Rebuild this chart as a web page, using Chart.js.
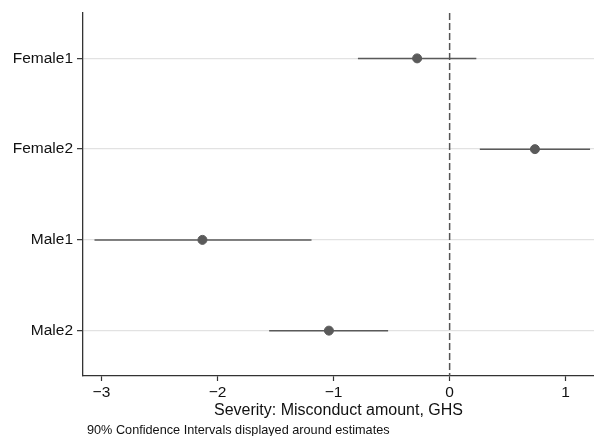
<!DOCTYPE html>
<html>
<head>
<meta charset="utf-8">
<script src="https://cdn.jsdelivr.net/npm/chart.js@4"></script>
<style>
  html, body { margin: 0; padding: 0; background: #fff; }
</style>
</head>
<body>
<canvas id="myChart" width="594" height="436"></canvas>
<script>
// data
const categories = ['Female1', 'Female2', 'Male1', 'Male2'];
const estimates = [-0.28, 0.735, -2.13, -1.04];
const ciLow = [-0.79, 0.26, -3.06, -1.555];
const ciHigh = [0.23, 1.21, -1.19, -0.53];
const xTicks = [-3, -2, -1, 0, 1];
const xTitle = 'Severity: Misconduct amount, GHS';
const note = '90% Confidence Intervals displayed around estimates';

const fontFamily = '"Liberation Sans", Arial, Helvetica, sans-serif';
const markColor = '#5a5a5a';

// confidence interval lines, one dataset per row
const ciSets = categories.map((c, i) => ({
    type: 'line',
    data: [{ x: ciLow[i], y: i }, { x: ciHigh[i], y: i }],
    borderColor: markColor,
    borderWidth: 1.5,
    pointRadius: 0,
    order: 3
}));

const notePlugin = {
    id: 'note',
    afterDraw(chart) {
        const ctx = chart.ctx;
        ctx.save();
        ctx.font = '12.7px ' + fontFamily;
        ctx.fillStyle = '#111';
        ctx.textBaseline = 'middle';
        ctx.fillText(note, chart.chartArea.left + 4, 430);
        ctx.restore();
    }
};

new Chart(document.getElementById('myChart').getContext('2d'), {
    type: 'scatter',
    data: {
        datasets: [{
            data: estimates.map((v, i) => ({ x: v, y: i })),
            backgroundColor: markColor,
            borderColor: markColor,
            pointRadius: 4.5,
            pointHoverRadius: 4.5,
            order: 1
        }, {
            type: 'line',
            data: [{ x: 0, y: -0.5 }, { x: 0, y: 3.5 }],
            borderColor: '#555',
            borderWidth: 1.5,
            borderDash: [7, 3],
            pointRadius: 0,
            order: 2
        }, ...ciSets]
    },
    options: {
        responsive: false,
        animation: false,
        devicePixelRatio: 1,
        layout: { autoPadding: false, padding: { top: 13, right: 0, bottom: 16, left: 0 } },
        plugins: {
            legend: { display: false },
            tooltip: { enabled: false }
        },
        scales: {
            x: {
                type: 'linear',
                min: -3.159,
                max: 1.244,
                afterBuildTicks: axis => { axis.ticks = xTicks.map(v => ({ value: v })); },
                afterFit: scale => {
                    scale.height = 44;
                    scale.paddingLeft = 0;
                    scale.paddingRight = 0;
                },
                ticks: {
                    color: '#111',
                    padding: 2,
                    font: { size: 15.5, family: fontFamily },
                    callback: v => v < 0 ? '\u2212' + Math.abs(v) : String(v)
                },
                grid: { drawOnChartArea: false, tickLength: 5, tickColor: '#333', tickWidth: 1.2 },
                border: { color: '#333', width: 1.3 },
                title: {
                    display: true,
                    text: xTitle,
                    color: '#111',
                    font: { size: 16, family: fontFamily },
                    padding: { top: 0, bottom: 0 }
                }
            },
            y: {
                type: 'linear',
                reverse: true,
                min: -0.5,
                max: 3.5,
                afterBuildTicks: axis => { axis.ticks = categories.map((c, i) => ({ value: i })); },
                afterFit: scale => {
                    scale.width = 83;
                    scale.paddingTop = 0;
                    scale.paddingBottom = 0;
                },
                ticks: {
                    color: '#111',
                    padding: 4,
                    font: { size: 15.5, family: fontFamily },
                    callback: v => categories[v]
                },
                grid: { color: '#e2e2e2', lineWidth: 1.3, tickLength: 6, tickColor: '#333', tickWidth: 1.2 },
                border: { color: '#333', width: 1.3 }
            }
        }
    },
    plugins: [notePlugin]
});
</script>
</body>
</html>
